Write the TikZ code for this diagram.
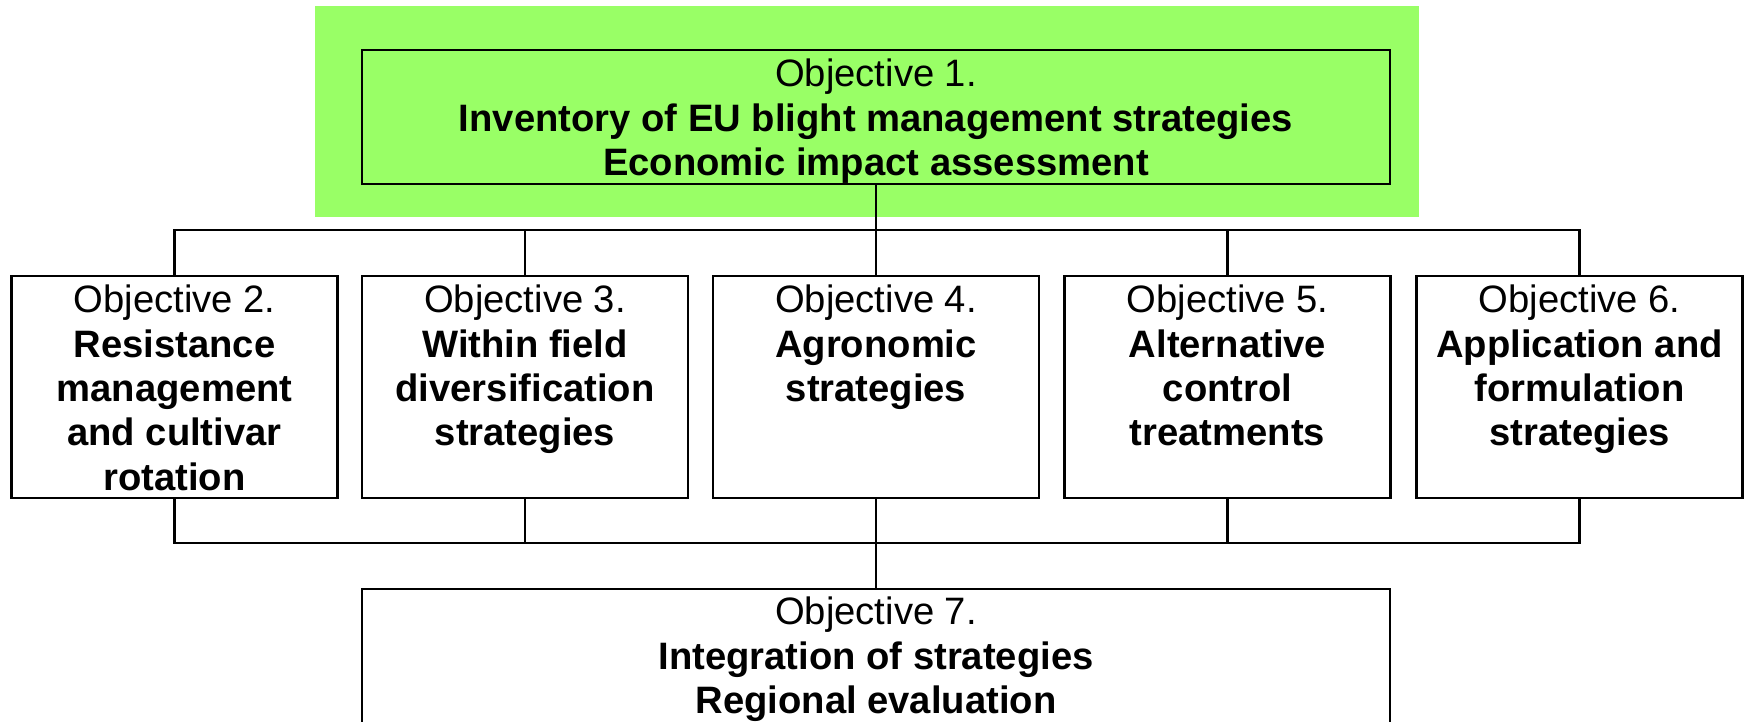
\documentclass[tikz,border=0pt]{standalone}
\usepackage{fontspec}
\setmainfont{Liberation Sans}
\usetikzlibrary{calc}
\definecolor{leaf}{HTML}{99FF66}
\begin{document}
\begin{tikzpicture}[x=0.5pt,y=-0.5pt,
  every node/.style={inner sep=0pt,outer sep=0pt},
  objbox/.style={draw=black,line width=1.4pt,minimum width=163pt,minimum height=111pt},
  widebox/.style={draw=black,line width=1.4pt,minimum width=514pt},
  objtext/.style={anchor=north,align=center,font=\fontsize{19.1}{22.2}\selectfont,yshift=-4.5pt},
  link/.style={draw=black,line width=1.4pt}
]
\useasboundingbox (0,0) rectangle (1744,722);

% green panel behind objective 1
\node[fill=leaf,minimum width=552pt,minimum height=105.5pt] (panel) at (867,111.5) {};

% objective 1
\node[widebox,minimum height=67pt] (o1) at (876,117) {};
\node[objtext] (t1) at (o1.north)
  {Objective 1.\\\textbf{Inventory of EU blight management strategies}\\\textbf{Economic impact assessment}};

% objectives 2-6
\node[objbox] (o2) at (174.5,387) {};
\node[objbox] (o3) at (525,387) {};
\node[objbox] (o4) at (876,387) {};
\node[objbox] (o5) at (1227.5,387) {};
\node[objbox] (o6) at (1579.5,387) {};

\node[objtext] (t2) at (o2.north) {Objective 2.\\\textbf{Resistance}\\\textbf{management}\\\textbf{and cultivar}\\\textbf{rotation}};
\node[objtext] (t3) at (o3.north) {Objective 3.\\\textbf{Within field}\\\textbf{diversification}\\\textbf{strategies}};
\node[objtext] (t4) at (o4.north) {Objective 4.\\\textbf{Agronomic}\\\textbf{strategies}};
\node[objtext] (t5) at (o5.north) {Objective 5.\\\textbf{Alternative}\\\textbf{control}\\\textbf{treatments}};
\node[objtext] (t6) at (o6.north) {Objective 6.\\\textbf{Application and}\\\textbf{formulation}\\\textbf{strategies}};

% objective 7
\node[widebox,minimum height=72pt,anchor=north] (o7) at (876,589) {};
\node[objtext,yshift=0.5pt] (t7) at (o7.north) {Objective 7.\\\textbf{Integration of strategies}\\\textbf{Regional evaluation}};

% bus lines
\coordinate (topbus) at (876,230);
\coordinate (botbus) at (876,543);

\draw[link] (o1.south) -- (topbus);
\foreach \n in {o2,o3,o4,o5,o6} \draw[link] (\n.north) |- (topbus);
\foreach \n in {o2,o3,o5,o6} \draw[link] (\n.south) |- (botbus);
\draw[link] (o4.south) -- (o7.north);
\end{tikzpicture}
\end{document}
